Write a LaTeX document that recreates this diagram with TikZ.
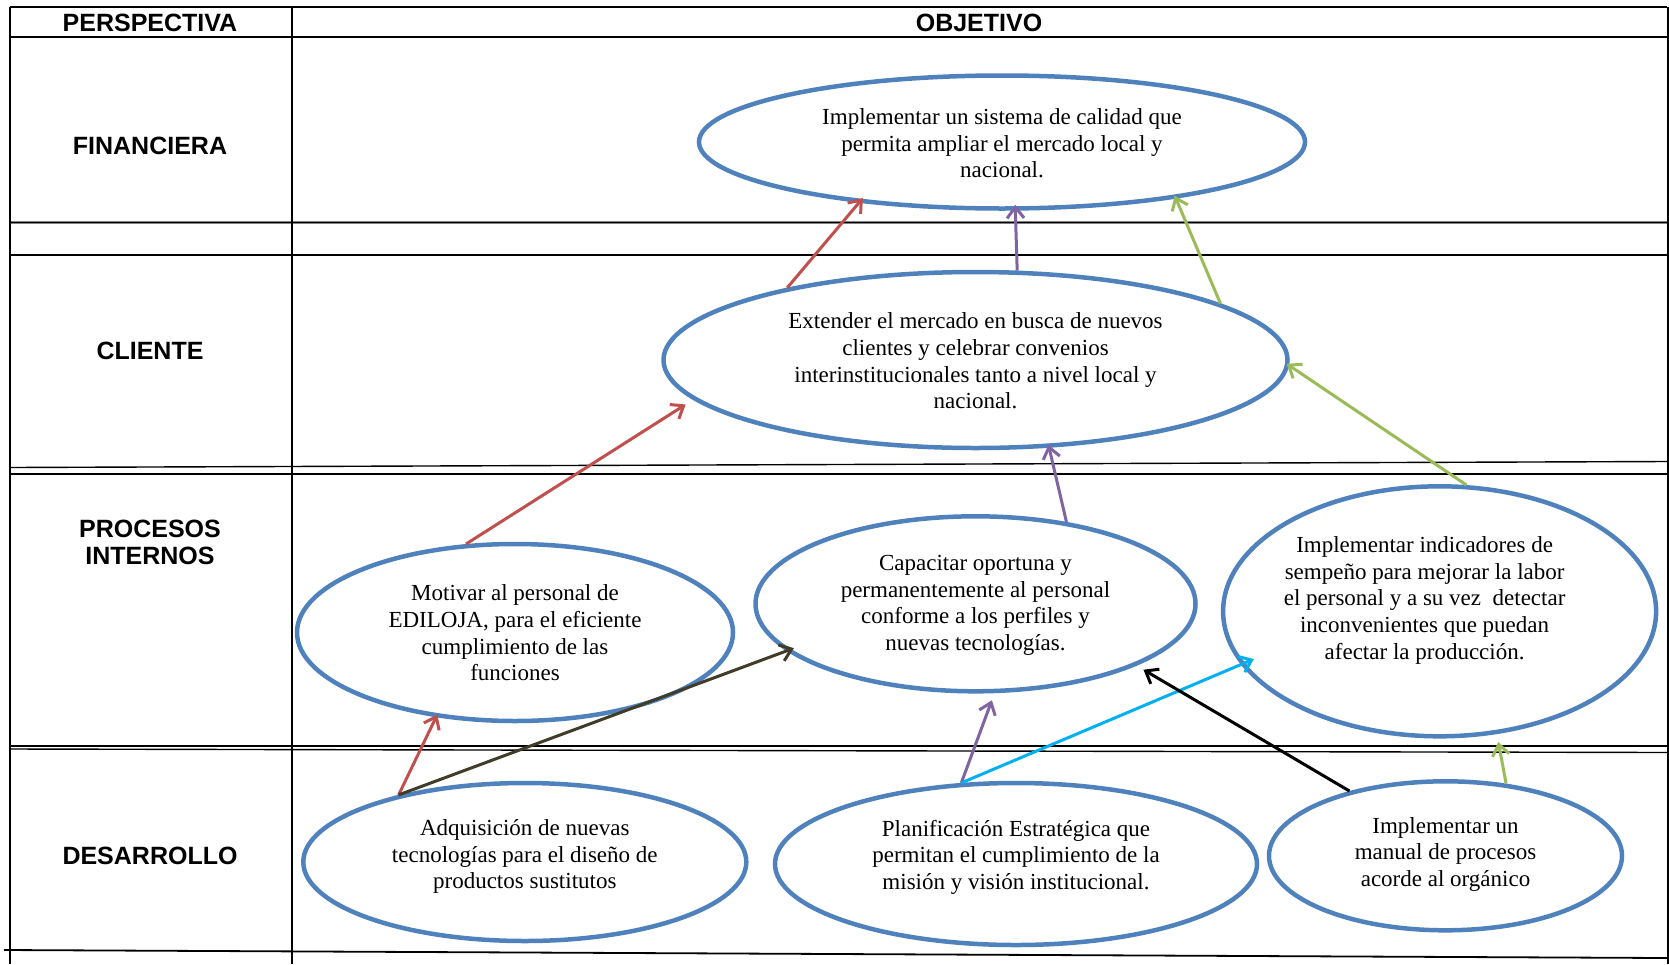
\documentclass[tikz,border=0pt]{standalone}
\usepackage{fontspec}
\setmainfont{Liberation Serif}
\newfontfamily\headfont{Liberation Sans}
\usetikzlibrary{shapes.geometric,arrows.meta}

\definecolor{ovalblue}{HTML}{4F81BD}
\definecolor{linkred}{HTML}{C0504D}
\definecolor{linkpurple}{HTML}{8064A2}
\definecolor{linkgreen}{HTML}{9BBB59}
\definecolor{linkcyan}{HTML}{00B0F0}
\definecolor{linkolive}{HTML}{403C28}

\begin{document}
\begin{tikzpicture}[x=1pt,y=-1pt,
  rule/.style={line width=2pt},
  thinrule/.style={line width=1.4pt},
  oval/.style={ellipse, draw=ovalblue, line width=4.5pt, inner sep=0pt},
  goal/.style={font=\fontsize{23}{26.6}\selectfont, align=center, inner sep=0pt},
  head/.style={font=\headfont\bfseries\fontsize{25}{26.6}\selectfont, align=center, inner sep=0pt},
  link/.style={line width=3pt, -{Straight Barb[length=11pt,width=17pt]}, shorten >=-3pt},
]
\useasboundingbox (0,0) rectangle (1669,964);

% ---- table grid ----
\draw[rule] (10,7) -- (1667,7);
\draw[rule] (10,36.5) -- (1667,36.5);
\draw[line width=2.6pt, gray] (10,222.3) -- (1667,222.3);
\draw[line width=0.8pt] (10,222.3) -- (1667,222.3);
\draw[rule] (10,254.7) -- (1667,254.7);
\draw[thinrule] (10,467.5) -- (1667,461.5);
\draw[rule] (10,474) -- (1667,474);
\draw[rule] (10,745.7) -- (1667,745.7);
\draw[thinrule] (10,749) -- (1667,752.5);
\draw[line width=1.8pt] (4,950) -- (1667,958);
\draw[rule] (10,7) -- (10,964);
\draw[rule] (292,7) -- (292,964);
\draw[rule] (1667.5,7) -- (1667.5,964);

% ---- column headings and perspectives ----
\node[head] (hPersp) at (150,22.4) {PERSPECTIVA};
\node[head] (hObj)   at (979,22.4) {OBJETIVO};
\node[head] (pFin)   at (150,145.8) {FINANCIERA};
\node[head] (pCli)   at (150,351.3) {CLIENTE};
\node[head] (pProc)  at (150,542.3) {PROCESOS\\INTERNOS};
\node[head] (pDes)   at (150,855.8) {DESARROLLO};

% ---- objectives ----
\node[oval, minimum width=606, minimum height=133] (F) at (1002,142) {};
\node[oval, minimum width=624, minimum height=176] (C) at (975.5,360) {};
\node[oval, minimum width=436, minimum height=177] (M) at (515,632.5) {};
\node[oval, minimum width=440, minimum height=175] (K) at (975.5,603.8) {};
\node[oval, minimum width=433, minimum height=250] (I) at (1439.6,611.3) {};
\node[oval, minimum width=443, minimum height=158] (A) at (524.8,862) {};
\node[oval, minimum width=482, minimum height=162] (P) at (1016,864) {};
\node[oval, minimum width=353, minimum height=149] (N) at (1445.5,855.8) {};

\node[goal] (tF) at ([yshift=-1.5pt]F.center) {Implementar un sistema de calidad que\\permita ampliar el mercado local y\\nacional.};
\node[goal] (tC) at ([yshift=-1pt]C.center) {Extender el mercado en busca de nuevos\\clientes y celebrar convenios\\interinstitucionales tanto a nivel local y\\nacional.};
\node[goal] (tM) at ([yshift=-0.5pt]M.center) {Motivar al personal de\\EDILOJA, para el eficiente\\cumplimiento de las\\funciones};
\node[goal] (tK) at ([yshift=-1.5pt]K.center) {Capacitar oportuna y\\permanentemente al personal\\conforme a los perfiles y\\nuevas tecnologías.};
\node[goal] (tI) at ([xshift=-15pt,yshift=11pt]I.center) {Implementar indicadores de\\sempeño para mejorar la labor\\el personal y a su vez\ \ detectar\\inconvenientes que puedan\\afectar la producción.};
\node[goal] (tA) at ([yshift=5.5pt]A.center) {Adquisición de nuevas\\tecnologías para el diseño de\\productos sustitutos};
\node[goal] (tP) at ([yshift=7pt]P.center) {Planificación Estratégica que\\permitan el cumplimiento de la\\misión y visión institucional.};
\node[goal] (tN) at ([yshift=1.7pt]N.center) {Implementar un\\manual de procesos\\acorde al orgánico};

% ---- cause and effect links ----
\draw[link, linkred, shorten >=-6pt]    (C.159.6) -- (F.203.1);
\draw[link, linkpurple, shorten >=-6pt] (C.65.2)  -- (F.281.9);
\draw[link, linkgreen]                  (C.13.5)  -- (F.342.7);
\draw[link, linkred, shorten >=9pt]     (M.119.2) -- (C.188.9);
\draw[link, linkpurple]                 (K.42.3)  -- (C.310.3);
\draw[link, linkgreen]                  (I.78.2)  -- (C.359.3);
\draw[link, linkred]                    (A.152.9) -- (M.227.9);
\draw[link, linkolive, shorten >=-8pt]  (A.152.9) -- (K.194.6);
\draw[link, linkpurple, shorten >=7.5pt] (P.124.9) -- (K.282.3);
\draw[link, linkcyan, shorten >=-14pt]  (P.124.0) -- (I.195.75);
\draw[link, black, shorten >=8pt]       (N.146.4) -- (K.339.2);
\draw[link, linkgreen, shorten >=8pt]   (N.50.6)  -- (I.295.3);
\end{tikzpicture}
\end{document}
